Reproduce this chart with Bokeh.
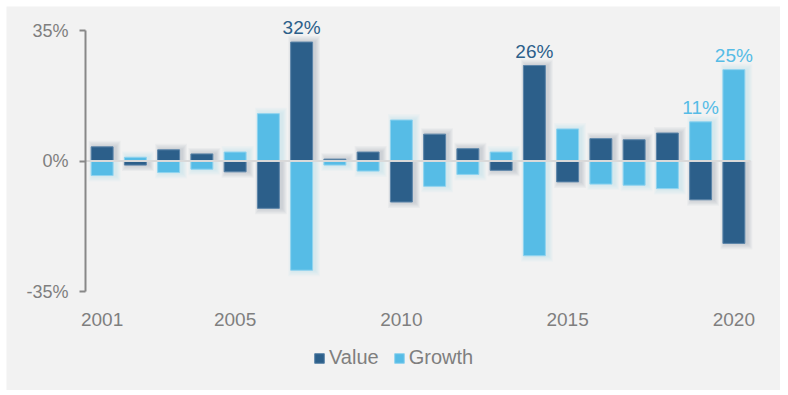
from bokeh.plotting import figure
from bokeh.models import (Range1d, FixedTicker, Legend, LegendItem, LinearAxis,
                          ColumnDataSource, PrintfTickFormatter)
from bokeh.embed import file_html
from bokeh.resources import INLINE
from bokeh.core.properties import value

years = list(range(2001, 2021))
value_ret = [3.8, -1.1, 3.0, 1.9, -2.9, -12.7, 31.9, 0.5, 2.4, -11.0,
             7.2, 3.3, -2.5, 25.6, -5.6, 6.0, 5.7, 7.5, -10.4, -22.1]
growth_ret = [-3.9, 1.0, -3.1, -2.2, 2.4, 12.7, -29.3, -1.1, -2.7, 11.0,
              -6.8, -3.6, 2.4, -25.4, 8.6, -6.2, -6.5, -7.4, 10.5, 24.5]
x_ticks = [2001, 2005, 2010, 2015, 2020]
y_ticks = [-35, 0, 35]

label_years = [2007, 2014, 2019, 2020]
label_series = ["Value", "Value", "Growth", "Growth"]
label_texts = ["32%", "26%", "11%", "25%"]

DARK = "#2c5f8a"
LIGHT = "#56bce6"
GRAY = "#7f7f7f"
BG = "#f2f2f2"

# layout scales (pixels per data unit)
X_LO, X_HI = 2000.5, 2020.5
Y_LO, Y_HI = -35, 35
pxx = 665 / (X_HI - X_LO)
pxy = 261 / (Y_HI - Y_LO)

p = figure(width=774, height=384, output_backend="svg", toolbar_location=None,
           margin=(6, 0, 0, 6),
           x_range=Range1d(X_LO - 79 / pxx, X_HI + 30 / pxx),
           y_range=Range1d(Y_LO - 99 / pxy, Y_HI + 24 / pxy),
           x_axis_location=None, y_axis_location=None,
           min_border_left=0, min_border_right=0, min_border_top=0,
           min_border_bottom=0)
p.background_fill_color = BG
p.border_fill_color = BG
p.outline_line_color = None
p.xgrid.visible = False
p.ygrid.visible = False

BW = 0.66
# soft glow under bars (shifted slightly right)
def glow(vals, color):
    for k in (5, 4, 3, 2, 1):
        tops = [v + (1 if v >= 0 else -1) * k * 1.2 / pxy for v in vals]
        p.vbar(x=[y + 2.5 / pxx for y in years], top=tops, bottom=0,
               width=BW + 2 * k * 1.0 / pxx, fill_color=color,
               fill_alpha=0.035, line_color=None)

glow(value_ret, "#1f3f5f")
glow(growth_ret, "#56bce6")

src = ColumnDataSource(dict(x=years, v=value_ret, g=growth_ret))
rv = p.vbar(x="x", top="v", bottom=0, width=BW, source=src,
            fill_color=DARK, line_color="#5b84a8", line_width=1)
rg = p.vbar(x="x", top="g", bottom=0, width=BW, source=src,
            fill_color=LIGHT, line_color="#8fd3ef", line_width=1)

# zero line across the plotting area
p.segment(x0=[X_LO], y0=[0], x1=[X_HI], y1=[0], line_color="#d9d9d9",
          line_width=2)

# data labels
lab_y = []
lab_c = []
for yr, s in zip(label_years, label_series):
    i = years.index(yr)
    lab_y.append(value_ret[i] if s == "Value" else growth_ret[i])
    lab_c.append(DARK if s == "Value" else LIGHT)
lsrc = ColumnDataSource(dict(x=label_years, y=lab_y, t=label_texts, c=lab_c))
p.text(x="x", y="y", text="t", source=lsrc, text_color="c",
       text_align="center", text_baseline="bottom", y_offset=-4,
       text_font=value("Liberation Sans"), text_font_size="19px")

# y axis at the left edge of the bar area
ya = LinearAxis(ticker=FixedTicker(ticks=y_ticks), fixed_location=X_LO,
                bounds=(Y_LO, Y_HI),
                formatter=PrintfTickFormatter(format="%d%%"))
ya.axis_line_color = "#888888"
ya.axis_line_width = 2
ya.major_tick_line_color = "#888888"
ya.major_tick_line_width = 2
ya.major_tick_out = 6
ya.major_tick_in = 0
ya.minor_tick_line_color = None
ya.major_label_text_color = GRAY
ya.major_label_text_font = "Liberation Sans"
ya.major_label_text_font_size = "18px"
ya.major_label_standoff = 11
p.add_layout(ya, "left")

# x axis at the -35% level
xa = LinearAxis(ticker=FixedTicker(ticks=x_ticks), fixed_location=Y_LO)
xa.axis_line_color = None
xa.major_tick_line_color = None
xa.minor_tick_line_color = None
xa.major_label_text_color = GRAY
xa.major_label_text_font = "Liberation Sans"
xa.major_label_text_font_size = "19px"
xa.major_label_standoff = 15
p.add_layout(xa, "below")

legend = Legend(items=[LegendItem(label="Value", renderers=[rv]),
                       LegendItem(label="Growth", renderers=[rg])],
                orientation="horizontal", location=(302, 16))
legend.label_text_color = GRAY
legend.label_text_font = "Liberation Sans"
legend.label_text_font_size = "20px"
legend.glyph_width = 12
legend.glyph_height = 12
legend.label_standoff = 4
legend.spacing = 14
legend.padding = 5
legend.margin = 0
legend.border_line_alpha = 0
legend.background_fill_alpha = 0
p.add_layout(legend, "center")

open("out.html", "w").write(file_html(p, INLINE))
